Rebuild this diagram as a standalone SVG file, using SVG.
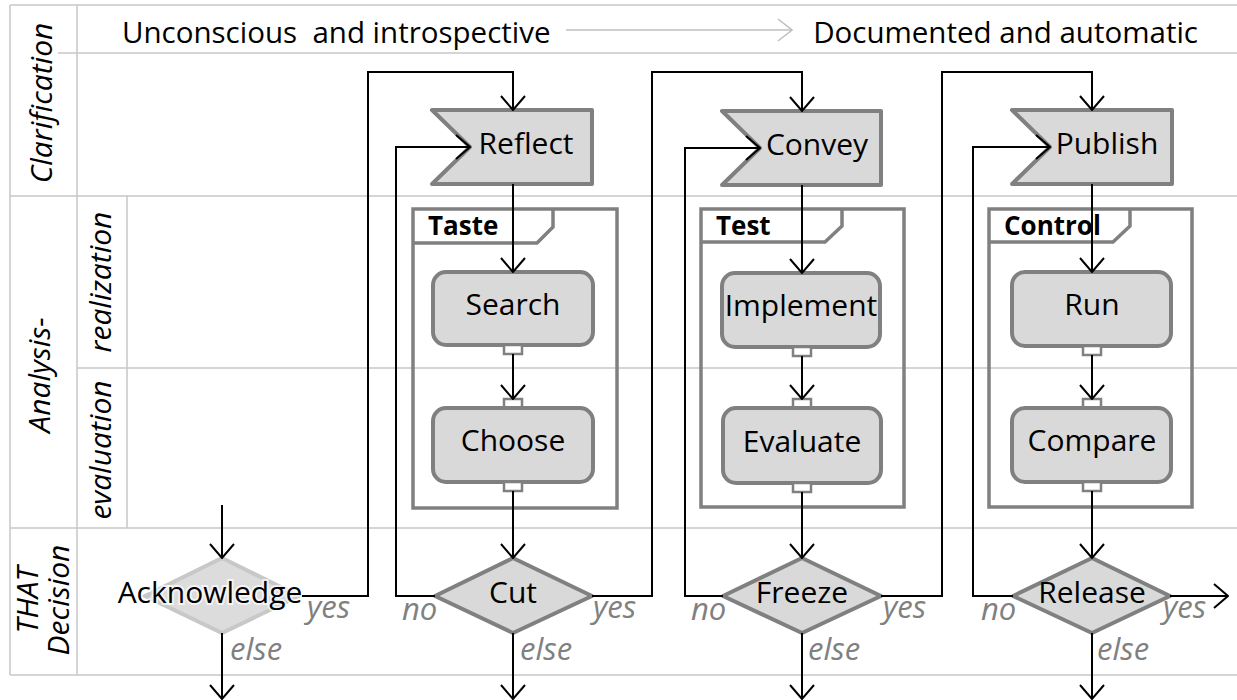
<svg xmlns="http://www.w3.org/2000/svg" width="1237" height="700" viewBox="0 0 1237 700">
<defs>
<style>
.lane{stroke:#c8c8c8;stroke-width:1.5;fill:none}
.lbl{font-family:"Open Sans","Noto Sans",sans-serif;font-size:29.5px;fill:#000}
.lanet{font-family:"Open Sans","Noto Sans",sans-serif;font-size:30px;font-style:italic;fill:#000}
.nt{font-family:"Open Sans","Noto Sans",sans-serif;font-size:30px;fill:#000;text-anchor:middle}
.tab{font-family:"Open Sans","Noto Sans",sans-serif;font-size:26px;font-weight:bold;fill:#000}
.cond{font-family:"Open Sans","Noto Sans",sans-serif;font-size:31px;font-style:italic;fill:#808080}
.flag,.proc,.dec{fill:#d9d9d9;stroke:#808080;stroke-width:4;stroke-linejoin:round}
.frame{fill:none;stroke:#808080;stroke-width:3.5}
.pin{fill:#fff;stroke:#808080;stroke-width:2.5}
.ack{fill:#dcdcdc;stroke:#c8c8c8;stroke-width:4}
.c{fill:none;stroke:#000;stroke-width:2;marker-end:url(#arr)}
</style>
<marker id="arr" markerUnits="userSpaceOnUse" viewBox="0 0 16 26" refX="15" refY="13" markerWidth="16" markerHeight="26" orient="auto">
<path d="M1,1 L15,13 L1,25" fill="none" stroke="#000" stroke-width="2"/>
</marker>
<marker id="garr" markerUnits="userSpaceOnUse" viewBox="0 0 16 24" refX="15" refY="12" markerWidth="16" markerHeight="24" orient="auto">
<path d="M1,1 L15,12 L1,23" fill="none" stroke="#bfbfbf" stroke-width="1.5"/>
</marker>
</defs>
<rect width="1237" height="700" fill="#fff"/>
<g id="lanes">
<path class="lane" d="M10,5 H1237 M58,53 H1237 M10,196 H1237 M77,368 H1237 M10,528 H1237 M10,675 H1237 M10,5 V675 M77,5 V675 M127,196 V528"/>
<text class="lanet" transform="translate(52,103) rotate(-90)" text-anchor="middle">Clarification</text>
<text class="lanet" transform="translate(50,375) rotate(-90)" text-anchor="middle">Analysis-</text>
<text class="lanet" transform="translate(111,282) rotate(-90)" text-anchor="middle">realization</text>
<text class="lanet" transform="translate(111,450) rotate(-90)" text-anchor="middle">evaluation</text>
<text class="lanet" transform="translate(38,600) rotate(-90)" text-anchor="middle">THAT</text>
<text class="lanet" transform="translate(69,600) rotate(-90)" text-anchor="middle">Decision</text>
</g>
<g id="header">
<text class="lbl" x="122" y="43" style="white-space:pre" xml:space="preserve">Unconscious  and introspective</text>
<line x1="566" y1="30" x2="792" y2="30" stroke="#bfbfbf" stroke-width="1.5" marker-end="url(#garr)"/>
<text class="lbl" x="1198" y="43" text-anchor="end">Documented and automatic</text>
</g>
<g id="reflect">
<path class="flag" d="M432,110 H592 V184 H432 L470,147 Z"/>
<text class="nt" x="526" y="154">Reflect</text>
</g>
<g id="convey">
<path class="flag" d="M722,111 H881 V185 H722 L760,148 Z"/>
<text class="nt" x="817" y="155">Convey</text>
</g>
<g id="publish">
<path class="flag" d="M1012,110 H1172 V184 H1012 L1050,147 Z"/>
<text class="nt" x="1107" y="154">Publish</text>
</g>
<g id="taste">
<rect class="frame" x="413" y="209" width="204" height="299"/>
<path class="frame" d="M413,243 H537 L553,227 V209"/>
<text class="tab" x="428" y="235">Taste</text>
</g>
<g id="test">
<rect class="frame" x="701" y="209" width="203" height="298"/>
<path class="frame" d="M701,242 H825 L842,226 V209"/>
<text class="tab" x="716" y="235">Test</text>
</g>
<g id="control">
<rect class="frame" x="989" y="209" width="203" height="298"/>
<path class="frame" d="M989,242 H1113 L1130,226 V209"/>
<text class="tab" x="1004" y="235">Control</text>
</g>
<g id="search">
<rect class="proc" x="433" y="272" width="160" height="73" rx="13"/>
<rect class="pin" x="504" y="345" width="18" height="9"/>
<text class="nt" x="513" y="315">Search</text>
</g>
<g id="choose">
<rect class="pin" x="504" y="399" width="18" height="9"/>
<rect class="proc" x="433" y="408" width="160" height="74" rx="13"/>
<rect class="pin" x="504" y="482" width="18" height="9"/>
<text class="nt" x="513" y="451">Choose</text>
</g>
<g id="implement">
<rect class="proc" x="722" y="273" width="158" height="74" rx="13"/>
<rect class="pin" x="793" y="347" width="18" height="9"/>
<text class="nt" x="801" y="316">Implement</text>
</g>
<g id="evaluate">
<rect class="pin" x="793" y="399" width="18" height="9"/>
<rect class="proc" x="723" y="408" width="158" height="75" rx="13"/>
<rect class="pin" x="793" y="483" width="18" height="9"/>
<text class="nt" x="802" y="452">Evaluate</text>
</g>
<g id="run">
<rect class="proc" x="1012" y="272" width="159" height="74" rx="13"/>
<rect class="pin" x="1083" y="346" width="18" height="9"/>
<text class="nt" x="1092" y="315">Run</text>
</g>
<g id="compare">
<rect class="pin" x="1083" y="399" width="18" height="9"/>
<rect class="proc" x="1012" y="408" width="159" height="74" rx="13"/>
<rect class="pin" x="1083" y="482" width="18" height="9"/>
<text class="nt" x="1092" y="451">Compare</text>
</g>
<g id="acknowledge">
<path class="ack" d="M222,558 L299,596 L222,633 L145,596 Z"/>
<text class="nt" x="210" y="603" stroke="#fff" stroke-width="4" stroke-opacity="0.7" paint-order="stroke">Acknowledge</text>
</g>
<g id="cut">
<path class="dec" d="M513,558 L592,596 L513,633 L435,596 Z"/>
<text class="nt" x="513" y="603">Cut</text>
</g>
<g id="freeze">
<path class="dec" d="M802,558 L881,596 L802,633 L723,596 Z"/>
<text class="nt" x="802" y="603">Freeze</text>
</g>
<g id="release">
<path class="dec" d="M1092,558 L1170,596 L1092,633 L1013,596 Z"/>
<text class="nt" x="1092" y="603">Release</text>
</g>
<g id="connectors">
<path class="c" d="M222,505 V558"/>
<path class="c" d="M302,596 H368 V72 H513 V110"/>
<path class="c" d="M222,633 V699"/>
<path class="c" d="M513,184 V272"/>
<path class="c" d="M513,354 V399"/>
<path class="c" d="M513,491 V558"/>
<path class="c" d="M435,596 H396 V147 H470"/>
<path class="c" d="M592,596 H652 V72 H802 V111"/>
<path class="c" d="M513,633 V699"/>
<path class="c" d="M802,185 V273"/>
<path class="c" d="M802,356 V399"/>
<path class="c" d="M802,492 V558"/>
<path class="c" d="M723,596 H685 V148 H760"/>
<path class="c" d="M881,596 H942 V72 H1092 V110"/>
<path class="c" d="M802,633 V699"/>
<path class="c" d="M1092,184 V272"/>
<path class="c" d="M1092,355 V399"/>
<path class="c" d="M1092,491 V558"/>
<path class="c" d="M1013,596 H973 V147 H1050"/>
<path class="c" d="M1170,596 H1228"/>
<path class="c" d="M1092,633 V699"/>
<text class="cond" x="307" y="618">yes</text>
<text class="cond" x="230" y="660">else</text>
<text class="cond" x="402" y="620">no</text>
<text class="cond" x="593" y="618">yes</text>
<text class="cond" x="520" y="660">else</text>
<text class="cond" x="691" y="620">no</text>
<text class="cond" x="883" y="618">yes</text>
<text class="cond" x="808" y="660">else</text>
<text class="cond" x="981" y="620">no</text>
<text class="cond" x="1163" y="618">yes</text>
<text class="cond" x="1097" y="660">else</text>
</g>
</svg>
